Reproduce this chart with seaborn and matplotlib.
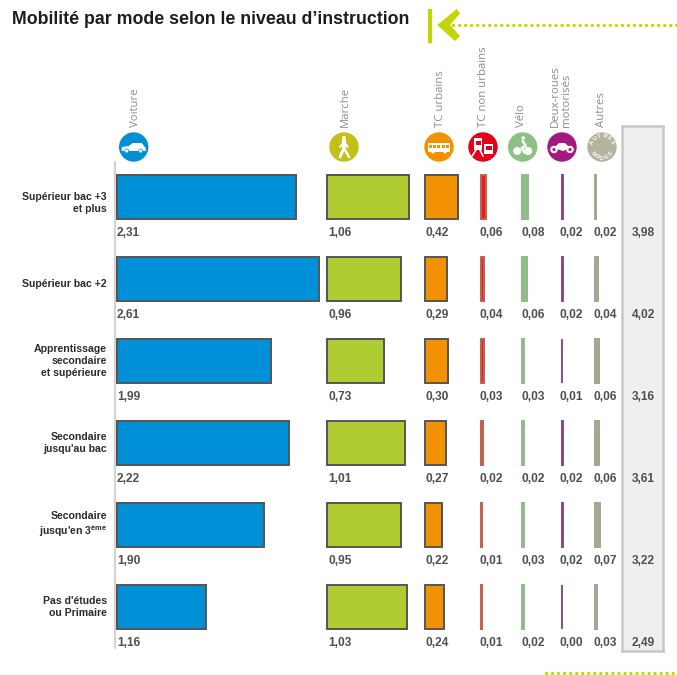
import math
import matplotlib
matplotlib.use('Agg')
import matplotlib.pyplot as plt
import pandas as pd
import seaborn as sns
from matplotlib.patches import Circle, Polygon, Rectangle

niveaux = ["Supérieur bac +3\net plus", "Supérieur bac +2",
           "Apprentissage\nsecondaire\net supérieure", "Secondaire\njusqu'au bac",
           "Secondaire\njusqu'en 3$^{\\mathbf{ème}}$", "Pas d'études\nou Primaire"]
voiture = [2.31, 2.61, 1.99, 2.22, 1.90, 1.16]
marche = [1.06, 0.96, 0.73, 1.01, 0.95, 1.03]
tc_urbains = [0.42, 0.29, 0.30, 0.27, 0.22, 0.24]
tc_non_urbains = [0.06, 0.04, 0.03, 0.02, 0.01, 0.01]
velo = [0.08, 0.06, 0.03, 0.02, 0.03, 0.02]
deux_roues = [0.02, 0.02, 0.01, 0.02, 0.02, 0.00]
autres = [0.02, 0.04, 0.06, 0.06, 0.07, 0.03]
tous_modes = [3.98, 4.02, 3.16, 3.61, 3.22, 2.49]

W, H = 677, 675
PX_UNIT = 77.5    # pixels for one trip per day
ROW_0, ROW_STEP = 197, 82
TOP, BOTTOM = 162, 648
PAD = 5           # room left of the bars so their edge is not clipped

sns.set_theme(style='white')
plt.rcParams['font.family'] = ['Liberation Sans', 'DejaVu Sans']
plt.rcParams['mathtext.fontset'] = 'custom'
plt.rcParams['mathtext.bf'] = 'Liberation Sans:bold'

df = pd.DataFrame({'niveau': niveaux, 'voiture': voiture, 'marche': marche,
                   'tc_urbains': tc_urbains, 'tc_non_urbains': tc_non_urbains,
                   'velo': velo, 'deux_roues': deux_roues, 'autres': autres})

fig = plt.figure(figsize=(W / 100, H / 100), dpi=100, facecolor='white')


def px_axes(x0, y0, x1, y1, zorder=2):
    return fig.add_axes([x0 / W, 1 - y1 / H, (x1 - x0) / W, (y1 - y0) / H], zorder=zorder)


# decoration layer in pixels
bg = px_axes(0, 0, W, H, zorder=1)
bg.set_xlim(0, W)
bg.set_ylim(H, 0)
bg.axis('off')

GREEN = '#c3d500'
bg.plot([430, 430], [9, 43], color=GREEN, lw=3.0, solid_capstyle='butt')
bg.add_patch(Polygon([(437.3, 25), (456.7, 9), (460, 13.3), (450, 25), (460, 36), (455, 41)],
                     color=GREEN, lw=0))
bg.plot([453, 677], [25, 25], color=GREEN, lw=2.4, ls=(0, (0.01, 1.8)), dash_capstyle='round')
bg.plot([546, 677], [673, 673], color=GREEN, lw=2.4, ls=(0, (0.01, 1.8)), dash_capstyle='round')
bg.plot([676.5, 676.5], [46, 662], color='#e6ee9c', lw=1, ls=(0, (1, 3)))

bg.text(12, 20, "Mobilité par mode selon le niveau d\u2019instruction", fontsize=12.75,
        fontweight='bold', color='#1d1d1b', va='center', ha='left')

# columns: key, bar start, axes width, fill, edge, label x
colonnes = [
    ('voiture', 116.5, 215, '#0090d7', '#555555', 117),
    ('marche', 327, 90, '#aecb32', '#555555', 328.5),
    ('tc_urbains', 425, 40, '#f39200', '#555555', 425),
    ('tc_non_urbains', 481.3, 20, '#e2211c', '#c4604c', 480),
    ('velo', 522, 20, '#8cc084', '#93b98c', 521),
    ('deux_roues', 561.7, 20, '#a3197f', '#8a4a80', 560),
    ('autres', 594.7, 20, '#aba894', '#a5a391', 593),
]
ylim = ((BOTTOM - ROW_0) / ROW_STEP, (TOP - ROW_0) / ROW_STEP)
LABEL_DY = [0.07, 0.055, 0, 0, 0, 0]

for key, x0, width, fill, edge, lab_x in colonnes:
    ax = px_axes(x0 - PAD, TOP, x0 + width, BOTTOM)
    sns.barplot(data=df, y='niveau', x=key, order=niveaux, color=fill, saturation=1,
                edgecolor=edge, linewidth=1.4, width=0.54, ax=ax)
    ax.set_xlim(-PAD / PX_UNIT, width / PX_UNIT)
    ax.set_ylim(*ylim)
    ax.set_xlabel('')
    ax.set_ylabel('')
    ax.patch.set_alpha(0)
    ax.set_xticks([])
    ax.set_yticks([])
    sns.despine(ax=ax, left=True, bottom=True)
    if key == 'voiture':
        for i, lab in enumerate(niveaux):
            ax.text(-(x0 - 107) / PX_UNIT, i + LABEL_DY[i], lab, fontsize=7.6, fontweight='bold',
                    color='#2b2b2b', ha='right', va='center', multialignment='right', clip_on=False)
    for i, v in enumerate(df[key]):
        ax.text((lab_x - x0) / PX_UNIT, i + 0.44, f"{v:.2f}".replace('.', ','), fontsize=8.6,
                fontweight='bold', color='#4f4f4f', va='center', ha='left', clip_on=False)

# grey axis line on the left of the first column
bg.plot([114.5, 114.5], [TOP, BOTTOM], color='#d4d4d4', lw=1.6)

# total column
ax_tot = px_axes(622, 126, 663, 651, zorder=1.5)
ax_tot.set_facecolor('#efefef')
ax_tot.set_xticks([])
ax_tot.set_yticks([])
ax_tot.set_xlim(0, 1)
ax_tot.set_ylim((651 - ROW_0) / ROW_STEP, (126 - ROW_0) / ROW_STEP)
for s in ax_tot.spines.values():
    s.set_color('#c8c8c8')
    s.set_linewidth(1.8)
for i, v in enumerate(tous_modes):
    ax_tot.text(0.52, i + 0.44, f"{v:.2f}".replace('.', ','), fontsize=8.6, fontweight='bold',
                color='#4f4f4f', va='center', ha='center', zorder=5)

# rotated column titles
titres = [("Voiture", 135), ("Marche", 345.5), ("TC urbains", 440.5), ("TC non urbains", 483),
          ("Vélo", 522), ("Deux-roues\nmotorisés", 561), ("Autres", 602)]
for txt, x in titres:
    bg.text(x, 127, txt, rotation=90, fontsize=8.2, color='#8c8c8c', ha='center', va='bottom',
            family=['Open Sans', 'DejaVu Sans'], linespacing=1.0, multialignment='left')

# icons
ICON_Y, R = 147, 14.7
icones = [(133.7, '#0090d7'), (344, '#c3c018'), (439, '#f39200'), (483, '#e2001a'),
          (522.7, '#8cc084'), (562, '#a3197f'), (602, '#b5b2a0'), (642.7, '#8e8e8e')]
for x, c in icones:
    bg.add_patch(Circle((x, ICON_Y), R, facecolor=c, edgecolor='none'))

# car
x = 133.7
bg.add_patch(Polygon([(x - 12, ICON_Y + 4), (x - 12, ICON_Y), (x - 5, ICON_Y - 1), (x - 1, ICON_Y - 4),
                      (x + 8, ICON_Y - 4), (x + 12, ICON_Y + 1), (x + 12, ICON_Y + 4)], color='white', lw=0))
for dx in (-7, 7):
    bg.add_patch(Circle((x + dx, ICON_Y + 4), 2, facecolor='white', edgecolor='#0090d7', lw=0.5))

# pedestrian
x = 344
bg.add_patch(Circle((x, ICON_Y - 9), 2, color='white', lw=0))
bg.plot([x, x], [ICON_Y - 6, ICON_Y + 2], color='white', lw=3, solid_capstyle='round')
bg.plot([x, x - 4, x], [ICON_Y + 1, ICON_Y + 10, ICON_Y + 1], color='white', lw=1.8)
bg.plot([x, x + 5], [ICON_Y + 1, ICON_Y + 10], color='white', lw=1.8)
bg.plot([x - 4, x, x + 4], [ICON_Y, ICON_Y - 5, ICON_Y], color='white', lw=1.3)

# bus
x = 439
bg.add_patch(Rectangle((x - 11, ICON_Y - 4), 22, 9, color='white', lw=0))
for k in range(5):
    bg.add_patch(Rectangle((x - 10 + k * 4.2, ICON_Y - 2.5), 3, 3, color='#f39200', lw=0))
for dx in (-6, 6):
    bg.add_patch(Circle((x + dx, ICON_Y + 5), 1.6, color='white', lw=0))

# train and coach
x = 483
bg.add_patch(Rectangle((x - 9, ICON_Y - 9), 8, 12, color='white', lw=0))
bg.add_patch(Rectangle((x - 7.5, ICON_Y - 6), 5, 3.5, color='#e2001a', lw=0))
bg.plot([x - 7, x - 11], [ICON_Y + 3, ICON_Y + 9], color='white', lw=1.2)
bg.plot([x - 3, x + 0], [ICON_Y + 3, ICON_Y + 9], color='white', lw=1.2)
bg.add_patch(Rectangle((x + 1, ICON_Y - 3), 9, 10, color='white', lw=0))
bg.add_patch(Rectangle((x + 2.5, ICON_Y - 1), 6, 3.5, color='#e2001a', lw=0))

# bike
x = 522.7
for dx in (-5.5, 5.5):
    bg.add_patch(Circle((x + dx, ICON_Y + 4), 4, color='white', lw=0))
bg.add_patch(Circle((x + 0.5, ICON_Y - 9), 1.8, color='white', lw=0))
bg.plot([x, x + 3, x - 1, x + 2], [ICON_Y - 6, ICON_Y - 1, ICON_Y + 1, ICON_Y + 6], color='white', lw=1.8)

# motorbike
x = 562
for dx in (-8, 8):
    bg.add_patch(Circle((x + dx, ICON_Y + 2.5), 4.2, facecolor='white', edgecolor='#a3197f', lw=0.6))
    bg.add_patch(Circle((x + dx, ICON_Y + 2.5), 1.6, color='#a3197f', lw=0))
bg.add_patch(Polygon([(x - 8, ICON_Y + 1), (x - 3, ICON_Y - 4), (x + 3, ICON_Y - 4), (x + 8, ICON_Y + 1),
                      (x + 1, ICON_Y + 4)], color='white', lw=0))


def arc_text(cx, word, start, step, r, bottom=False):
    for k, ch in enumerate(word):
        a = math.radians(start + k * step)
        px, py = cx + r * math.sin(a), ICON_Y - r * math.cos(a)
        rot = -math.degrees(a) + (180 if bottom else 0)
        bg.text(px, py, ch, fontsize=4, fontweight='bold', color='white', rotation=rot,
                ha='center', va='center', rotation_mode='anchor')


for cx, haut in ((602, "AUTRES"), (642.7, "TOUS")):
    n = len(haut)
    arc_text(cx, haut, -(n - 1) * 13, 26, 11)
    arc_text(cx, "MODES", 180 + 2 * 26, -26, 11, bottom=True)

fig.savefig('out.png', dpi=100, facecolor='white')
